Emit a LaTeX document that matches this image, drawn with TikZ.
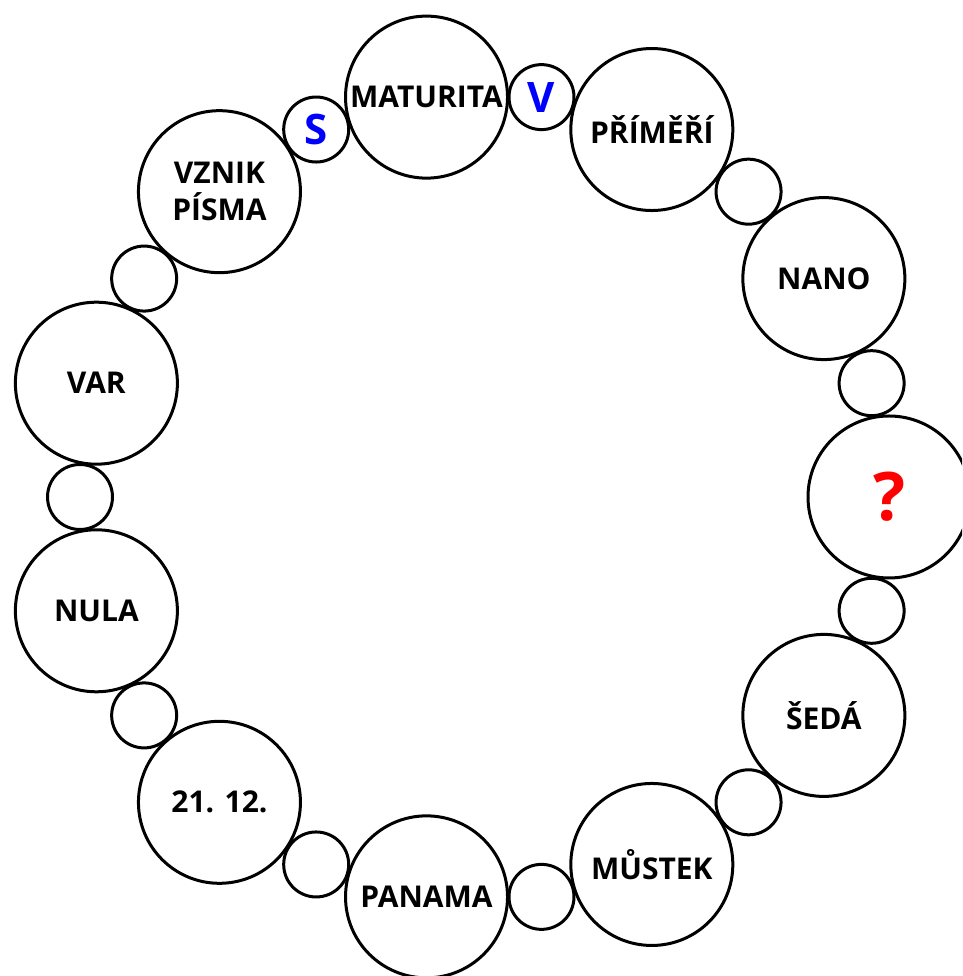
\documentclass[tikz,border=0pt]{standalone}
\usepackage{fontspec}
\setmainfont{Open Sans}
\begin{document}
\begin{tikzpicture}[x=1pt,y=1pt,
  big/.style={circle,draw=black,line width=3pt,minimum size=162pt,inner sep=0pt,align=center,font=\bfseries\fontsize{30}{37}\selectfont},
  small/.style={circle,draw=black,line width=3pt,minimum size=65pt,inner sep=0pt,font=\bfseries\fontsize{42}{42}\selectfont,text=blue},
  qmark/.style={text=red,font=\bfseries\fontsize{67}{67}\selectfont}
  ]
\useasboundingbox (0,0) rectangle (962,976);
\clip (0,0) rectangle (962,976);
\node[big,qmark] (q) at ([shift={(0:404)}]485,479) {?};
\node[small] (s1) at ([shift={(16.3636:404)}]484,479) {};
\node[big] (nano) at ([shift={(32.7273:404)}]484,479) {NANO};
\node[small] (s3) at ([shift={(49.0909:404)}]484,479) {};
\node[big] (primeri) at ([shift={(65.4545:404)}]484,479) {PŘÍMĚŘÍ};
\node[small] (v) at ([shift={(81.8182:404)}]484,479) {V};
\node[big] (maturita) at ([shift={(98.1818:404)}]484,479) {MATURITA};
\node[small] (s) at ([shift={(114.5455:404)}]484,479) {S};
\node[big] (vznik) at ([shift={(130.9091:404)}]484,479) {VZNIK\\PÍSMA};
\node[small] (s9) at ([shift={(147.2727:404)}]484,479) {};
\node[big] (var) at ([shift={(163.6364:404)}]484,479) {VAR};
\node[small] (s11) at ([shift={(180:404)}]484,479) {};
\node[big] (nula) at ([shift={(196.3636:404)}]484,479) {NULA};
\node[small] (s13) at ([shift={(212.7273:404)}]484,479) {};
\node[big] (datum) at ([shift={(229.0909:404)}]484,479) {21. 12.};
\node[small] (s15) at ([shift={(245.4545:404)}]484,479) {};
\node[big] (panama) at ([shift={(261.8182:404)}]484,479) {PANAMA};
\node[small] (s17) at ([shift={(278.1818:404)}]484,479) {};
\node[big] (mustek) at ([shift={(294.5455:404)}]484,479) {MŮSTEK};
\node[small] (s19) at ([shift={(310.9091:404)}]484,479) {};
\node[big] (seda) at ([shift={(327.2727:404)}]484,479) {ŠEDÁ};
\node[small] (s21) at ([shift={(343.6364:404)}]484,479) {};
\end{tikzpicture}
\end{document}
